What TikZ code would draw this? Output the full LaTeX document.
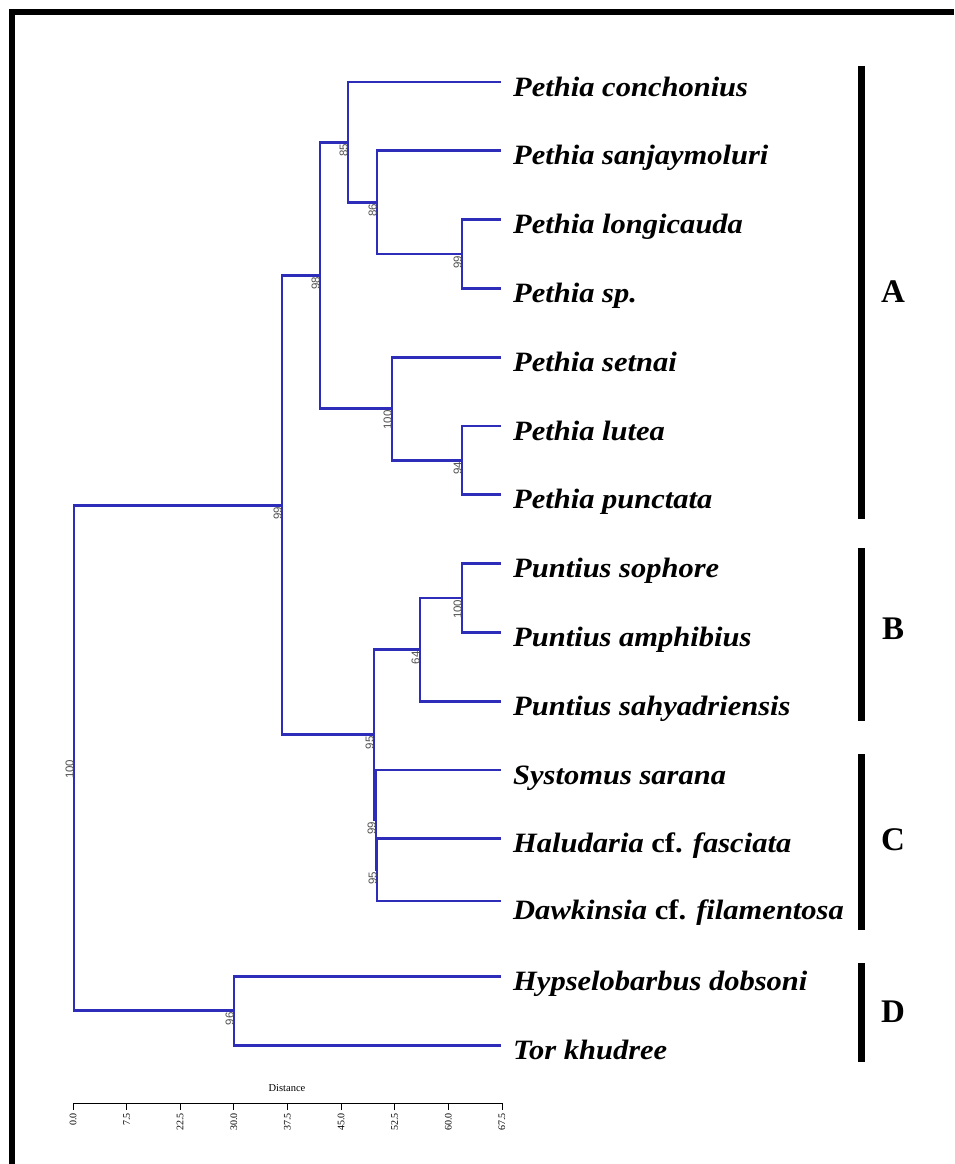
\documentclass[tikz,border=0pt]{standalone}
\usepackage{fontspec}
\setmainfont{Liberation Serif}
\newfontfamily\bootfont{Liberation Sans}
\definecolor{branch}{RGB}{45,45,185}
\definecolor{boot}{RGB}{80,80,80}
\newcommand{\spx}[1]{\scalebox{1.09}[1]{#1}}
\begin{document}
\begin{tikzpicture}[x=1pt,y=-1pt,
  br/.style={draw=branch,line width=2.8pt},
  sp/.style={anchor=base west,inner sep=0pt,font=\fontsize{28}{32}\selectfont\bfseries\itshape},
  bs/.style={rotate=90,anchor=south east,inner sep=0pt,text=boot,font=\bootfont\fontsize{11.5}{12}\selectfont},
  clbar/.style={line width=7pt,draw=black},
  cl/.style={font=\fontsize{33}{36}\selectfont\bfseries,inner sep=0pt},
  tk/.style={rotate=90,anchor=east,inner sep=0pt,font=\fontsize{10}{11}\selectfont},
]
\useasboundingbox (0,0) rectangle (954,1164);
% frame
\draw[line width=6pt] (12,1164) -- (12,12) -- (954,12);

% leaf tips
\coordinate (t1) at (501,82);
\coordinate (t2) at (501,150.8);
\coordinate (t3) at (501,219.6);
\coordinate (t4) at (501,288.4);
\coordinate (t5) at (501,357.2);
\coordinate (t6) at (501,426);
\coordinate (t7) at (501,494.8);
\coordinate (t8) at (501,563.6);
\coordinate (t9) at (501,632.4);
\coordinate (t10) at (501,701.2);
\coordinate (t11) at (501,770);
\coordinate (t12) at (501,838.8);
\coordinate (t13) at (501,901);
\coordinate (t14) at (501,976.4);
\coordinate (t15) at (501,1045.2);

% internal nodes
\coordinate (n99b) at (462,254);
\coordinate (n86) at (377,202.4);
\coordinate (n85) at (348,142.2);
\coordinate (n94) at (462,460.4);
\coordinate (n100a) at (392,408.8);
\coordinate (nA) at (320,275.5);
\coordinate (n100b) at (462,598);
\coordinate (n64) at (420,649.6);
\coordinate (nHD) at (377,869.9);
\coordinate (nC) at (376,820);
\coordinate (nBC) at (374,734.8);
\coordinate (n99) at (282,505.2);
\coordinate (nD) at (234,1010.8);
\coordinate (root) at (74,758);

% branches
\draw[br] (n99b) |- (t3) (n99b) |- (t4);
\draw[br] (n86) |- (t2) (n86) |- (n99b);
\draw[br] (n85) |- (t1) (n85) |- (n86);
\draw[br] (n94) |- (t6) (n94) |- (t7);
\draw[br] (n100a) |- (t5) (n100a) |- (n94);
\draw[br] (nA) |- (n85) (nA) |- (n100a);
\draw[br] (n100b) |- (t8) (n100b) |- (t9);
\draw[br] (n64) |- (n100b) (n64) |- (t10);
\draw[br] (nHD) |- (t12) (nHD) |- (t13);
\draw[br] (nC) |- (t11) (nC) |- (nHD);
\draw[br] (nBC) |- (n64) (nBC) |- (nC);
\draw[br] (n99) |- (nA) (n99) |- (nBC);
\draw[br] (nD) |- (t14) (nD) |- (t15);
\draw[br] (root) |- (n99) (root) |- (nD);

% bootstrap values
\node[bs] (b1) at ([yshift=-1.5pt]n85) {85};
\node[bs] (b2) at ([yshift=-1.5pt]n86) {86};
\node[bs] (b3) at ([yshift=-1.5pt]n99b) {99};
\node[bs] (b4) at ([yshift=-1.5pt]nA) {98};
\node[bs] (b5) at ([yshift=-1.5pt]n100a) {100};
\node[bs] (b6) at ([yshift=-1.5pt]n94) {94};
\node[bs] (b7) at ([yshift=-1.5pt]n99) {99};
\node[bs] (b8) at ([yshift=-1.5pt]n100b) {100};
\node[bs] (b9) at ([yshift=-1.5pt]n64) {64};
\node[bs] (b10) at ([yshift=-1.5pt]nBC) {95};
\node[bs] (b11) at ([yshift=-1.5pt]nC) {99};
\node[bs] (b12) at ([yshift=-1.5pt]nHD) {95};
\node[bs] (b13) at ([yshift=-1.5pt]root) {100};
\node[bs] (b14) at ([yshift=-1.5pt]nD) {96};

% species labels
\node[sp] (s1) at (513,96) {\spx{Pethia conchonius}};
\node[sp] (s2) at (513,164.8) {\spx{Pethia sanjaymoluri}};
\node[sp] (s3) at (513,233.6) {\spx{Pethia longicauda}};
\node[sp] (s4) at (513,302.4) {\spx{Pethia sp.}};
\node[sp] (s5) at (513,371.2) {\spx{Pethia setnai}};
\node[sp] (s6) at (513,440) {\spx{Pethia lutea}};
\node[sp] (s7) at (513,508.8) {\spx{Pethia punctata}};
\node[sp] (s8) at (513,577.6) {\spx{Puntius sophore}};
\node[sp] (s9) at (513,646.4) {\spx{Puntius amphibius}};
\node[sp] (s10) at (513,715.2) {\spx{Puntius sahyadriensis}};
\node[sp] (s11) at (513,784) {\spx{Systomus sarana}};
\node[sp] (s12) at (513,852.8) {\spx{Haludaria {\upshape cf.} fasciata}};
\node[sp] (s13) at (513,919) {\spx{Dawkinsia {\upshape cf.} filamentosa}};
\node[sp] (s14) at (513,990.4) {\spx{Hypselobarbus dobsoni}};
\node[sp] (s15) at (513,1059.2) {\spx{Tor khudree}};

% clade bars
\draw[clbar] (861,66) -- (861,519);
\draw[clbar] (861,548) -- (861,721);
\draw[clbar] (861,754) -- (861,930);
\draw[clbar] (861,963) -- (861,1062);
\node[cl] (cA) at (893,292) {A};
\node[cl] (cB) at (893,629) {B};
\node[cl] (cC) at (893,840) {C};
\node[cl] (cD) at (893,1012) {D};

% scale bar
\coordinate (a0) at (73,1103);
\coordinate (a8) at (502,1103);
\draw[line width=0.9pt] (a0) -- (a8);
\foreach \i/\lab in {0/0.0,1/7.5,2/22.5,3/30.0,4/37.5,5/45.0,6/52.5,7/60.0,8/67.5}{
  \coordinate (tk\i) at (73+53.625*\i,1103);
  \draw[line width=0.9pt] (tk\i) -- ++(0,7);
  \node[tk] (tl\i) at (73+53.625*\i,1113) {\lab};
}
\node[font=\fontsize{10.5}{12}\selectfont,inner sep=0pt] (dist) at (287,1088) {Distance};
\end{tikzpicture}
\end{document}
